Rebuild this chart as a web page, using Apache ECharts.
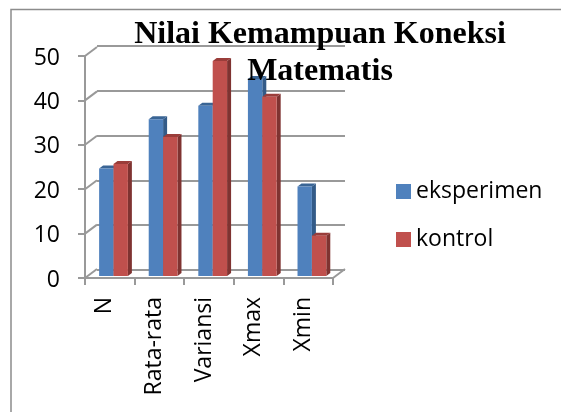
<!DOCTYPE html>
<html>
<head>
<meta charset="utf-8">
<style>
  html, body { margin: 0; padding: 0; background: #fff; }
  #chart { width: 561px; height: 412px; }
</style>
<script src="https://cdn.jsdelivr.net/npm/echarts@6/dist/echarts.min.js"></script>
</head>
<body>
<div id="chart"></div>
<script>
const categories = ['N', 'Rata-rata', 'Variansi', 'Xmax', 'Xmin'];
const eksperimen = [24, 35, 38, 44, 20];
const kontrol = [25, 31, 48, 40, 9];
const yTicks = [0, 10, 20, 30, 40, 50];

const chart = echarts.init(document.getElementById('chart'));

// the 3d look: grid 0 is the front plane, grid 1 the back wall, grid 2 the bars
// grid 3 only carries the tick labels, they sit a bit off the ticks in the original
const wallColor = '#999999';
const depthX = 12;
const depthY = -9;

// one bar with its top and side face
const bar3d = (index, front, top, side) => (params, api) => {
  const base = api.coord([api.value(0), 0]);
  const peak = api.coord([api.value(0), api.value(1)]);
  const w = api.size([1, 0])[0] * 0.29;
  const x = base[0] + (index - 1) * w;
  const dx = 4;
  const dy = 3;
  return {
    type: 'group',
    children: [
      {
        type: 'polygon',
        shape: { points: [[x + w, peak[1]], [x + w + dx, peak[1] - dy], [x + w + dx, base[1] - dy], [x + w, base[1]]] },
        style: { fill: side },
      },
      {
        type: 'polygon',
        shape: { points: [[x, peak[1]], [x + dx, peak[1] - dy], [x + w + dx, peak[1] - dy], [x + w, peak[1]]] },
        style: { fill: top },
      },
      {
        type: 'rect',
        shape: { x, y: peak[1], width: w, height: base[1] - peak[1] },
        style: { fill: front },
      },
    ],
  };
};

// connector from the front axis tick to the back wall, and the floor edge
const wall = (params, api) => {
  const p = api.coord([0, api.value(0)]);
  const end = api.coord([categories.length, 0]);
  const children = [{
    type: 'line',
    shape: { x1: p[0], y1: p[1], x2: p[0] + depthX, y2: p[1] + depthY },
    style: { stroke: wallColor, lineWidth: 2 },
  }];
  if (api.value(0) === 0) {
    children.push({
      type: 'line',
      shape: { x1: end[0], y1: end[1], x2: end[0] + depthX, y2: end[1] + depthY },
      style: { stroke: wallColor, lineWidth: 2 },
    });
  }
  return { type: 'group', children };
};

const hiddenX = (gridIndex) => ({
  type: 'value', gridIndex, min: 0, max: categories.length, show: false,
});
const hiddenY = (gridIndex, showLines) => ({
  type: 'value',
  gridIndex,
  min: 0,
  max: 50,
  interval: 10,
  axisLine: { show: false },
  axisTick: { show: false },
  axisLabel: { show: false },
  splitLine: { show: showLines, lineStyle: { color: wallColor, width: 2 } },
});

chart.setOption({
  animation: false,
  backgroundColor: '#fff',
  textStyle: { fontFamily: 'Open Sans' },
  title: {
    text: 'Nilai Kemampuan Koneksi\nMatematis',
    left: 315,
    top: 11,
    textAlign: 'center',
    z: 20,
    textStyle: {
      fontFamily: 'Liberation Serif',
      fontWeight: 'bold',
      fontSize: 32,
      lineHeight: 37,
      color: '#000',
    },
  },
  legend: {
    orient: 'vertical',
    left: 391,
    top: 171,
    itemWidth: 15,
    itemHeight: 15,
    itemGap: 17,
    icon: 'rect',
    data: ['eksperimen', 'kontrol'],
    textStyle: { fontFamily: 'Open Sans', fontSize: 23, lineHeight: 31, color: '#000' },
  },
  grid: [
    { left: 85, top: 56, width: 248, height: 222 },
    { left: 97, top: 46, width: 248, height: 224 },
    { left: 88.7, top: 52, width: 248, height: 224 },
    { left: 80, top: 58, width: 248, height: 222 },
  ],
  xAxis: [
    {
      type: 'category',
      gridIndex: 0,
      data: categories,
      boundaryGap: true,
      axisLine: { lineStyle: { color: wallColor, width: 2 } },
      axisTick: { show: true, interval: 0, length: 7, lineStyle: { color: wallColor, width: 2 } },
      axisLabel: { show: false, interval: 0 },
    },
    hiddenX(1),
    { type: 'category', gridIndex: 2, data: categories, show: false },
    hiddenX(0),
    {
      type: 'category',
      gridIndex: 3,
      data: categories,
      axisLine: { show: false },
      axisTick: { show: false },
      axisLabel: { rotate: 90, interval: 0, fontFamily: 'Open Sans', fontSize: 23, color: '#000', margin: 17 },
    },
  ],
  yAxis: [
    {
      type: 'value',
      gridIndex: 0,
      min: 0,
      max: 50,
      interval: 10,
      axisLine: { show: true, lineStyle: { color: wallColor, width: 2 } },
      axisTick: { show: true, length: 7, lineStyle: { color: wallColor, width: 2 } },
      axisLabel: { show: false },
      splitLine: { show: false },
    },
    hiddenY(1, true),
    hiddenY(2, false),
    {
      type: 'value',
      gridIndex: 3,
      min: 0,
      max: 50,
      interval: 10,
      axisLine: { show: false },
      axisTick: { show: false },
      axisLabel: { fontFamily: 'Open Sans', fontSize: 23, color: '#000', margin: 20 },
      splitLine: { show: false },
    },
  ],
  series: [
    {
      type: 'custom',
      name: 'wall',
      xAxisIndex: 3,
      yAxisIndex: 0,
      z: 1,
      silent: true,
      renderItem: wall,
      encode: { y: 0 },
      data: yTicks.map((t) => [t]),
    },
    {
      type: 'custom',
      name: 'eksperimen',
      xAxisIndex: 2,
      yAxisIndex: 2,
      z: 5,
      itemStyle: { color: '#4f81bd' },
      renderItem: bar3d(0, '#4f81bd', '#3a6595', '#335b88'),
      encode: { x: 0, y: 1 },
      data: categories.map((c, i) => [i, eksperimen[i]]),
    },
    {
      type: 'custom',
      name: 'kontrol',
      xAxisIndex: 2,
      yAxisIndex: 2,
      z: 6,
      itemStyle: { color: '#c0504d' },
      renderItem: bar3d(1, '#c0504d', '#9a3d3a', '#7f3331'),
      encode: { x: 0, y: 1 },
      data: categories.map((c, i) => [i, kontrol[i]]),
    },
  ],
  graphic: [
    {
      type: 'polyline',
      silent: true,
      z: 0,
      shape: { points: [[11, 412], [11, 9.5], [561, 9.5]] },
      style: { fill: 'none', stroke: '#8c8c8c', lineWidth: 1.5 },
    },
  ],
});
</script>
</body>
</html>
